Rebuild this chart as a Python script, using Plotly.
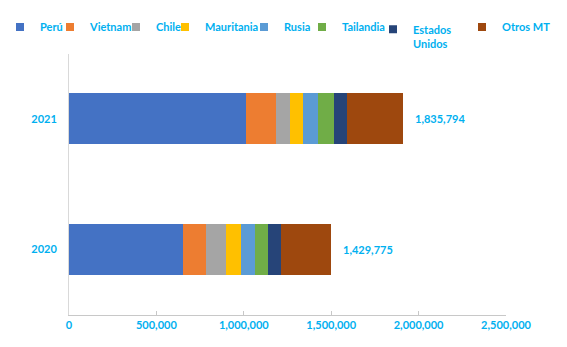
import plotly.graph_objects as go

years = ["2020", "2021"]
countries = ["Perú", "Vietnam", "Chile", "Mauritania", "Rusia", "Tailandia", "Estados Unidos", "Otros MT"]
legend_names = ["Perú", "Vietnam", "Chile", "Mauritania", "Rusia", "Tailandia", "Estados<br>Unidos", "Otros MT"]
colors = ["#4472C4", "#ED7D31", "#A5A5A5", "#FFC000", "#5B9BD5", "#70AD47", "#264478", "#9E480E"]
# values per country: [2020, 2021]
values = {
    "Perú": [654000, 1015000],
    "Vietnam": [132000, 170000],
    "Chile": [112000, 78000],
    "Mauritania": [86000, 75000],
    "Rusia": [78000, 88000],
    "Tailandia": [78000, 92000],
    "Estados Unidos": [75000, 72000],
    "Otros MT": [285000, 321000],
}
total_labels = [1429775, 1835794]
x_ticks = [0, 500000, 1000000, 1500000, 2000000, 2500000]

# legend box left edge (px) in the 567x347 canvas
legend_left_px = [0, 50, 116, 165, 244, 302, 373, 462]

W, H = 567, 347
ML, MR, MT, MB = 69, 61, 52, 32
PW, PH = W - ML - MR, H - MT - MB
BLUE = "#00B0F0"
FONT = "Lato"
LEGEND_MARKER_Y = 27

fig = go.Figure()
for i, c in enumerate(countries):
    fig.add_trace(go.Bar(
        y=years, x=values[c], orientation="h", name=countries[i],
        marker=dict(color=colors[i], line=dict(width=0)),
        legendgroup=c, showlegend=False,
    ))
    # legend entry (small square symbol like the original)
    fig.add_trace(go.Scatter(
        x=[None], y=[None], mode="markers", name=legend_names[i],
        marker=dict(color=colors[i], symbol="square", size=8),
        legendgroup=c, legend=f"legend{i+2}", hoverinfo="skip",
    ))

legends = {}
for i in range(len(countries)):
    common = dict(
        orientation="h", xanchor="left",
        font=dict(family=FONT, size=11, color=BLUE, weight="bold"),
        bgcolor="rgba(0,0,0,0)",
    )
    if "<br>" in legend_names[i]:
        # two-line entry: symbol aligned with the first line
        legends[f"legend{i+2}"] = dict(
            xref="paper", yref="paper",
            x=(legend_left_px[i] - ML) / PW, y=(MT + PH - 14) / PH,
            yanchor="top", valign="top", **common,
        )
    else:
        legends[f"legend{i+2}"] = dict(
            xref="container", yref="container",
            x=legend_left_px[i] / W, y=1 - LEGEND_MARKER_Y / H,
            yanchor="middle", **common,
        )

totals = [sum(values[c][j] for c in countries) for j in range(len(years))]
annotations = []
for j, y in enumerate(years):
    annotations.append(dict(
        x=totals[j], y=j, xref="x", yref="y", text=f"{total_labels[j]:,}",
        showarrow=False, xanchor="left", xshift=10,
        font=dict(family=FONT, size=11, color=BLUE, weight="bold"),
    ))

fig.update_layout(
    width=W, height=H,
    barmode="stack", bargap=0.61,
    plot_bgcolor="white", paper_bgcolor="white",
    margin=dict(l=ML, r=MR, t=MT, b=MB),
    annotations=annotations,
    **legends,
    xaxis=dict(
        range=[0, 2500000], tickvals=x_ticks, tickformat=",",
        showgrid=False, zeroline=False,
        showline=True, linecolor="#C8C8C8", linewidth=1,
        ticks="inside", ticklen=4, tickcolor="#C8C8C8",
        tickfont=dict(family=FONT, size=11, color=BLUE, weight="bold"),
    ),
    yaxis=dict(
        type="category",
        range=[-0.5, 1.5],
        showgrid=False, zeroline=False,
        showline=True, linecolor="#D9D9D9", linewidth=1,
        ticks="outside", ticklen=9, tickcolor="rgba(0,0,0,0)",
        tickfont=dict(family=FONT, size=11, color=BLUE, weight="bold"),
    ),
)

fig.write_html("out.html")
